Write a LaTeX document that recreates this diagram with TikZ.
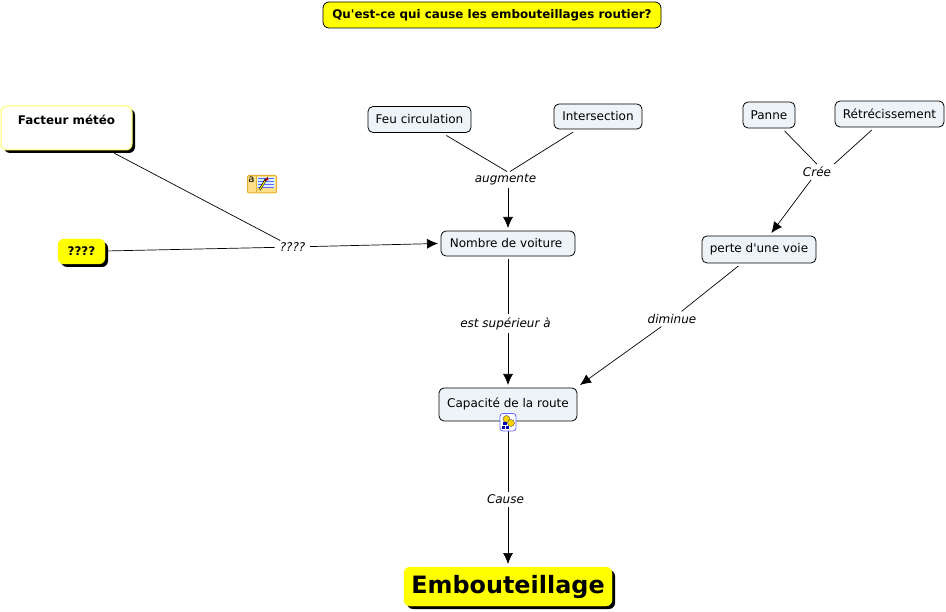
\documentclass[tikz,border=0pt]{standalone}
\usepackage{fontspec}
\setmainfont{DejaVu Sans}
\usepackage{xcolor}
\usetikzlibrary{arrows.meta,shadows}
\definecolor{conceptfill}{HTML}{EDF3F6}
\definecolor{noteyellow}{HTML}{FFE08A}
\definecolor{noteedge}{HTML}{E8B030}
\definecolor{topicyellow}{HTML}{FFFF00}
\tikzset{
    concept/.style={draw=black, line width=0.8pt, fill=conceptfill, rounded corners=5pt, inner sep=0pt, outer sep=3pt, font=\fontsize{12}{15}\selectfont},
    question/.style={draw=black, line width=0.8pt, fill=topicyellow, rounded corners=6pt, inner sep=0pt, font=\bfseries\fontsize{11.9}{15}\selectfont},
    topic/.style={draw=topicyellow, fill=topicyellow, rounded corners=6pt, inner sep=0pt, outer sep=3pt, font=\bfseries\fontsize{11.9}{15}\selectfont, drop shadow={shadow xshift=3pt, shadow yshift=-3pt, fill=black, opacity=1}},
    linkname/.style={font=\itshape\fontsize{12}{14}\selectfont, fill=white, inner sep=2pt, outer sep=1pt},
    link/.style={line width=0.7pt},
    arrowlink/.style={line width=0.7pt, -{Latex[length=11pt, width=10pt]}}
}
\begin{document}
\begin{tikzpicture}[x=1pt, y=-1pt]
        \useasboundingbox (0, 0) rectangle (946, 612);
        \node[question, minimum width=338pt, minimum height=26pt] (titre) at (492, 15) {Qu\textquotesingle est-ce qui cause les embouteillages routier?};
        \node[topic, draw=topicyellow!60!white, line width=1pt, fill=white, minimum width=131pt, minimum height=44pt, align=center] (meteo) at (66.5, 128) {Facteur météo\\[1pt]~};
        \node[topic, minimum width=47pt, minimum height=25pt] (unknown) at (81.5, 251.5) {????};
        \node[topic, font=\bfseries\fontsize{23.9}{28}\selectfont, minimum width=208pt, minimum height=39pt] (bouchon) at (508, 586.5) {Embouteillage};
        \node[concept, minimum width=103pt, minimum height=26pt] (feu) at (419.5, 119.5) {Feu circulation};
        \node[concept, minimum width=88pt, minimum height=25pt] (inter) at (598, 116.5) {Intersection};
        \node[concept, minimum width=52pt, minimum height=26pt] (panne) at (769, 115) {Panne};
        \node[concept, minimum width=109pt, minimum height=26pt] (retrec) at (889.5, 114) {Rétrécissement};
        \node[concept, minimum width=134pt, minimum height=25pt] (nombre) at (508, 243.5) {Nombre de voiture\ \ };
        \node[concept, minimum width=114pt, minimum height=27pt] (perte) at (759, 249.5) {perte d\textquotesingle une voie};
        \node[concept, minimum width=138pt, minimum height=33pt, text depth=3pt] (capacite) at (508, 404.5) {Capacité de la route};
        \node[linkname] (augmente) at (505.5, 180) {augmente};
        \node[linkname] (cree) at (817, 172) {Crée};
        \node[linkname, inner xsep=5pt, outer sep=0pt] (inconnu) at (292.5, 247) {????};
        \node[linkname] (superieur) at (505.5, 323.5) {est supérieur à};
        \node[linkname] (diminue) at (672, 319) {diminue};
        \node[linkname] (cause) at (505.5, 499.5) {Cause};
        \draw[link] (meteo) -- (inconnu);
        \draw[link] (unknown) -- (inconnu);
        \draw[arrowlink] (inconnu) -- (nombre.west);
        \draw[link] (feu) -- ([xshift=1.5pt]augmente.north);
        \draw[link] (inter) -- ([xshift=4.5pt]augmente.north);
        \draw[arrowlink] (augmente.south -| nombre.north) -- (nombre.north);
        \draw[link] (nombre.south) -- (superieur.north -| nombre.south);
        \draw[arrowlink] (superieur.south -| capacite.north) -- (capacite.north);
        \draw[link] (panne) -- (cree.north);
        \draw[link] (retrec) -- (cree.north east);
        \draw[arrowlink] (cree) -- (perte);
        \draw[link] (perte) -- (diminue);
        \draw[arrowlink] (diminue) -- (capacite.north east);
        \draw[link] (capacite.south) -- (cause.north -| capacite.south);
        \draw[arrowlink] (cause.south -| bouchon.north) -- (bouchon.north);
        % note icon
        \fill[noteyellow, draw=noteedge, line width=1pt, rounded corners=1pt] (247.5, 175.5) rectangle (276.5, 193);
        \draw[noteedge, line width=0.8pt] (256, 176) -- (256, 192.5);
        \node[inner sep=0pt, font=\fontsize{10}{10}\selectfont] (notea) at (251.5, 179.5) {a};
        \fill[white!85!cyan] (257, 177) rectangle (275, 188);
        \foreach \y in {178.5, 181.5, 184.5, 187.5} \draw[blue!60, line width=0.7pt] (258, \y) -- (274, \y);
        \draw[black, line width=2.2pt] (259.5, 190) -- (266, 179);
        \draw[yellow, line width=1pt] (259.5, 190) -- (265, 181);
        \fill[red!60!black] (264.5, 181) -- (267.5, 176.5) -- (268.5, 180) -- cycle;
        % map icon
        \fill[white, draw=blue!60, line width=0.8pt, rounded corners=3pt] (500, 413.5) rectangle (516, 431);
        \fill[yellow!70!orange, draw=black!70, line width=0.4pt] (506.5, 419) circle (3.5pt);
        \fill[yellow!70!orange, draw=black!70, line width=0.4pt] (511, 423) circle (3.5pt);
        \fill[blue!70!black] (503, 422) rectangle (507, 425.5);
        \fill[blue!70!black] (501.5, 426.5) rectangle (504.5, 429.5);
        \fill[blue!70!black] (506, 426.5) rectangle (509, 429.5);
    \end{tikzpicture}
\end{document}
